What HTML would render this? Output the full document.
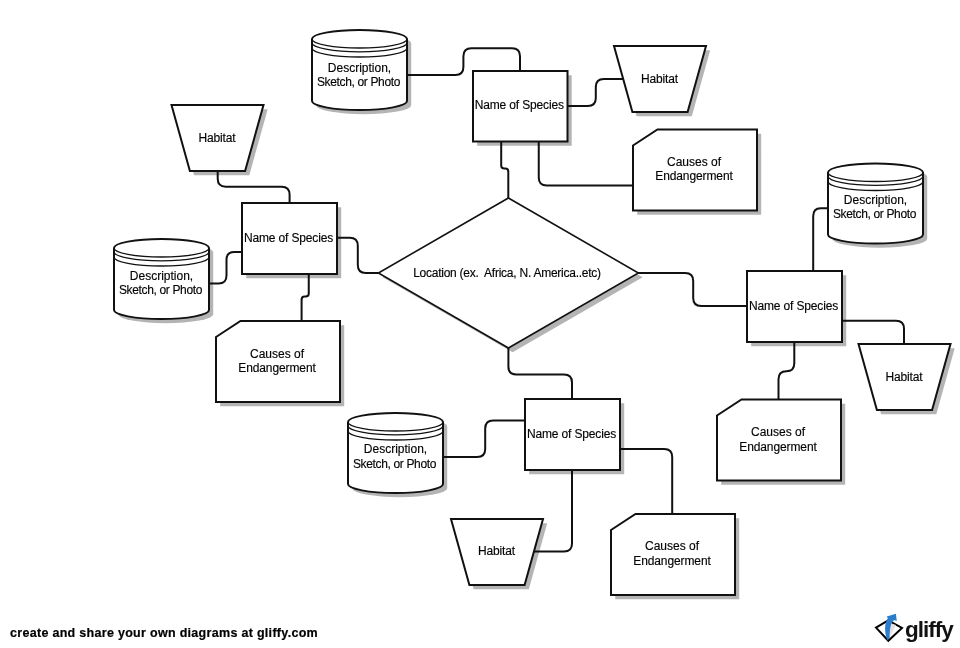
<!DOCTYPE html>
<html><head><meta charset="utf-8"><style>
html,body{margin:0;padding:0;background:#fff;width:960px;height:648px;overflow:hidden}
svg{display:block}
.sh path{fill:#b4b4b4;stroke:none}
.sp path{fill:#fff;stroke:#111;stroke-width:2;stroke-linejoin:miter}
.sp path.thin{fill:none;stroke-width:1.3}
.ln path{fill:none;stroke:#111;stroke-width:2}
.tx text{font-family:"Liberation Sans",sans-serif;font-size:12px;fill:#000;stroke:#000;stroke-width:0.15px;text-anchor:middle}
.tx{transform:rotate(0.001deg);will-change:transform}
.foot{position:absolute;left:10px;top:626px;font-family:"Liberation Sans",sans-serif;font-weight:bold;font-size:12.5px;letter-spacing:0.3px;color:#000;-webkit-text-stroke:0.2px #000;white-space:nowrap;transform:rotate(0.001deg);will-change:transform}
</style></head><body>
<svg width="960" height="648" viewBox="0 0 960 648">
<g class="sh"><path d="M316.2,43.2A47.5,9 0 0 1 411.2,43.2V105.2A47.5,9 0 0 1 316.2,105.2Z"/><path d="M477.2,75.2H571.7V145.7H477.2Z"/><path d="M618.2,50.2L710.2,50.2L691.8000000000001,116.2L636.6,116.2Z"/><path d="M637.2,149.7L661.7,133.7H761.2V214.7H637.2Z"/><path d="M175.7,109.2L267.7,109.2L249.29999999999998,175.2L194.1,175.2Z"/><path d="M246.2,207.2H341.2V278.2H246.2Z"/><path d="M118.2,252.2A47.5,9 0 0 1 213.2,252.2V314.2A47.5,9 0 0 1 118.2,314.2Z"/><path d="M220.2,341.2L244.7,325.2H344.2V406.2H220.2Z"/><path d="M512.6,202.2L642.6,277.2L512.6,352.2L382.59999999999997,277.2Z"/><path d="M832.2,176.7A47.5,9 0 0 1 927.2,176.7V238.7A47.5,9 0 0 1 832.2,238.7Z"/><path d="M751.2,275.2H846.2V346.2H751.2Z"/><path d="M862.7,348.2L954.7,348.2L936.3000000000001,414.2L881.1,414.2Z"/><path d="M721.2,419.7L745.7,403.7H845.2V484.7H721.2Z"/><path d="M529.2,403.2H624.2V474.2H529.2Z"/><path d="M352.2,426.2A47.5,9 0 0 1 447.2,426.2V488.2A47.5,9 0 0 1 352.2,488.2Z"/><path d="M455.2,523.2L547.2,523.2L528.8000000000001,589.2L473.59999999999997,589.2Z"/><path d="M615.2,534.2L639.7,518.2H739.2V599.2H615.2Z"/></g>
<g class="ln"><path d="M407,75L455.4,75.0Q463.4,75 463.4,67.0L463.4,56.2Q463.4,48.2 471.4,48.2L512.0,48.2Q520,48.2 520.0,56.2L520,71"/><path d="M568,106L587.8,106.0Q595.8,106 595.8,98.0L595.8,87.0Q595.8,79 603.8,79.0L623.5,79"/><path d="M538.75,142L538.75,177.6Q538.75,185.6 546.75,185.6L633,185.6"/><path d="M501.2,142L501.2,165.5Q501.2,168.5 504.2,168.5L505.3,168.5Q508.3,168.5 508.3,171.5L508.3,198"/><path d="M217.7,171L217.7,178.85Q217.7,186.7 225.7,186.7L281.6,186.7Q289.6,186.7 289.6,194.7L289.6,203"/><path d="M242,251.9L234.25,251.9Q226.5,251.9 226.5,259.9L226.5,275.4Q226.5,283.4 218.5,283.4L209,283.4"/><path d="M337,237.8L349.8,237.8Q357.8,237.8 357.8,245.8L357.8,265.0Q357.8,273 365.8,273.0L378.4,273"/><path d="M308.75,274L308.75,293.6Q308.75,296.6 305.75,296.6L304.6,296.6Q301.6,296.6 301.6,299.6L301.6,321"/><path d="M638,273L685.2,273.0Q693.2,273 693.2,281.0L693.2,298.0Q693.2,306 701.2,306.0L747,306"/><path d="M813.2,271L813.2,216.3Q813.2,208.3 820.6,208.3L828,208.3"/><path d="M842,320.7L896.0,320.7Q904,320.7 904.0,328.7L904,344"/><path d="M794.3,342L794.3,363.2Q794.3,371.2 786.4,371.2L786.4,371.2Q778.5,371.2 778.5,379.2L778.5,399.5"/><path d="M508.4,348L508.4,366.4Q508.4,374.4 516.4,374.4L564.0,374.4Q572,374.4 572.0,382.4L572,399"/><path d="M525,420.4L493.2,420.4Q485.2,420.4 485.2,428.4L485.2,448.9Q485.2,456.9 477.2,456.9L443,456.9"/><path d="M620,449L664.2,449.0Q672.2,449 672.2,457.0L672.2,514"/><path d="M572,470L572.0,543.4Q572,551.4 564.0,551.4L534,551.4"/></g>
<g class="sp"><path d="M312,39A47.5,9 0 0 1 407,39V101A47.5,9 0 0 1 312,101Z"/><path class="thin" d="M312,39A47.5,9 0 0 0 407,39"/><path class="thin" d="M312,42.8A47.5,9 0 0 0 407,42.8"/><path class="thin" d="M312,48A47.5,9 0 0 0 407,48"/><path d="M473,71H567.5V141.5H473Z"/><path d="M614,46L706,46L687.6,112L632.4,112Z"/><path d="M633,145.5L657.5,129.5H757V210.5H633Z"/><path d="M171.5,105L263.5,105L245.1,171L189.9,171Z"/><path d="M242,203H337V274H242Z"/><path d="M114,248A47.5,9 0 0 1 209,248V310A47.5,9 0 0 1 114,310Z"/><path class="thin" d="M114,248A47.5,9 0 0 0 209,248"/><path class="thin" d="M114,251.8A47.5,9 0 0 0 209,251.8"/><path class="thin" d="M114,257A47.5,9 0 0 0 209,257"/><path d="M216,337L240.5,321H340V402H216Z"/><path style="stroke-width:1.6" d="M508.4,198L638.4,273L508.4,348L378.4,273Z"/><path d="M828,172.5A47.5,9 0 0 1 923,172.5V234.5A47.5,9 0 0 1 828,234.5Z"/><path class="thin" d="M828,172.5A47.5,9 0 0 0 923,172.5"/><path class="thin" d="M828,176.3A47.5,9 0 0 0 923,176.3"/><path class="thin" d="M828,181.5A47.5,9 0 0 0 923,181.5"/><path d="M747,271H842V342H747Z"/><path d="M858.5,344L950.5,344L932.1,410L876.9,410Z"/><path d="M717,415.5L741.5,399.5H841V480.5H717Z"/><path d="M525,399H620V470H525Z"/><path d="M348,422A47.5,9 0 0 1 443,422V484A47.5,9 0 0 1 348,484Z"/><path class="thin" d="M348,422A47.5,9 0 0 0 443,422"/><path class="thin" d="M348,425.8A47.5,9 0 0 0 443,425.8"/><path class="thin" d="M348,431A47.5,9 0 0 0 443,431"/><path d="M451,519L543,519L524.6,585L469.4,585Z"/><path d="M611,530L635.5,514H735V595H611Z"/></g>
<g class="tx"><text x="359.5" y="71.8" >Description,</text><text x="358.5" y="85.7" letter-spacing="-0.35">Sketch, or Photo</text><text x="519.25" y="109.45" letter-spacing="-0.15">Name of Species</text><text x="659.5" y="83" letter-spacing="-0.15">Habitat</text><text x="694.0" y="166" >Causes of</text><text x="694.0" y="180.4" letter-spacing="-0.1">Endangerment</text><text x="217.0" y="142.2" letter-spacing="-0.15">Habitat</text><text x="288.5" y="241.7" letter-spacing="-0.15">Name of Species</text><text x="161.5" y="279.6" >Description,</text><text x="160.5" y="293.6" letter-spacing="-0.35">Sketch, or Photo</text><text x="277.0" y="357.5" >Causes of</text><text x="277.0" y="371.7" letter-spacing="-0.1">Endangerment</text><text x="507.0" y="276.9" letter-spacing="-0.25">Location (ex.&#160; Africa, N. America..etc)</text><text x="875.5" y="203.8" >Description,</text><text x="874.5" y="217.8" letter-spacing="-0.35">Sketch, or Photo</text><text x="793.5" y="309.7" letter-spacing="-0.15">Name of Species</text><text x="904.0" y="380.9" letter-spacing="-0.15">Habitat</text><text x="778.0" y="436.2" >Causes of</text><text x="778.0" y="450.5" letter-spacing="-0.1">Endangerment</text><text x="571.5" y="437.7" letter-spacing="-0.15">Name of Species</text><text x="395.5" y="453.1" >Description,</text><text x="394.5" y="467.5" letter-spacing="-0.35">Sketch, or Photo</text><text x="496.5" y="555.4" letter-spacing="-0.15">Habitat</text><text x="672.0" y="550.4" >Causes of</text><text x="672.0" y="565" letter-spacing="-0.1">Endangerment</text></g>
<g id="logo">
 <path d="M876,627.6 L888.2,620.4 L902,627.9 L888.3,640.8 Z" fill="#fff" stroke="#000" stroke-width="2" stroke-linejoin="miter"/>
 <path d="M889.5,623 L896,625 L890,637 Z" fill="#e2e2e2"/>
 <path d="M887.6,640.6 C884.3,633 884.2,623 887.8,618.4 L886.8,616.4 L895.9,613.8 L896.8,621 L894.2,619.9 C890.6,622.5 889.6,629 889.7,637.5 Z" fill="#2b7ccc"/>
 <g style="transform:rotate(0.001deg);will-change:transform"><text x="905" y="637" style="font-family:'Liberation Sans',sans-serif;font-weight:bold;font-size:22.5px;fill:#111;letter-spacing:-1px">gliffy</text></g>
</g>
</svg>
<div class="foot">create and share your own diagrams at gliffy.com</div>
</body></html>
